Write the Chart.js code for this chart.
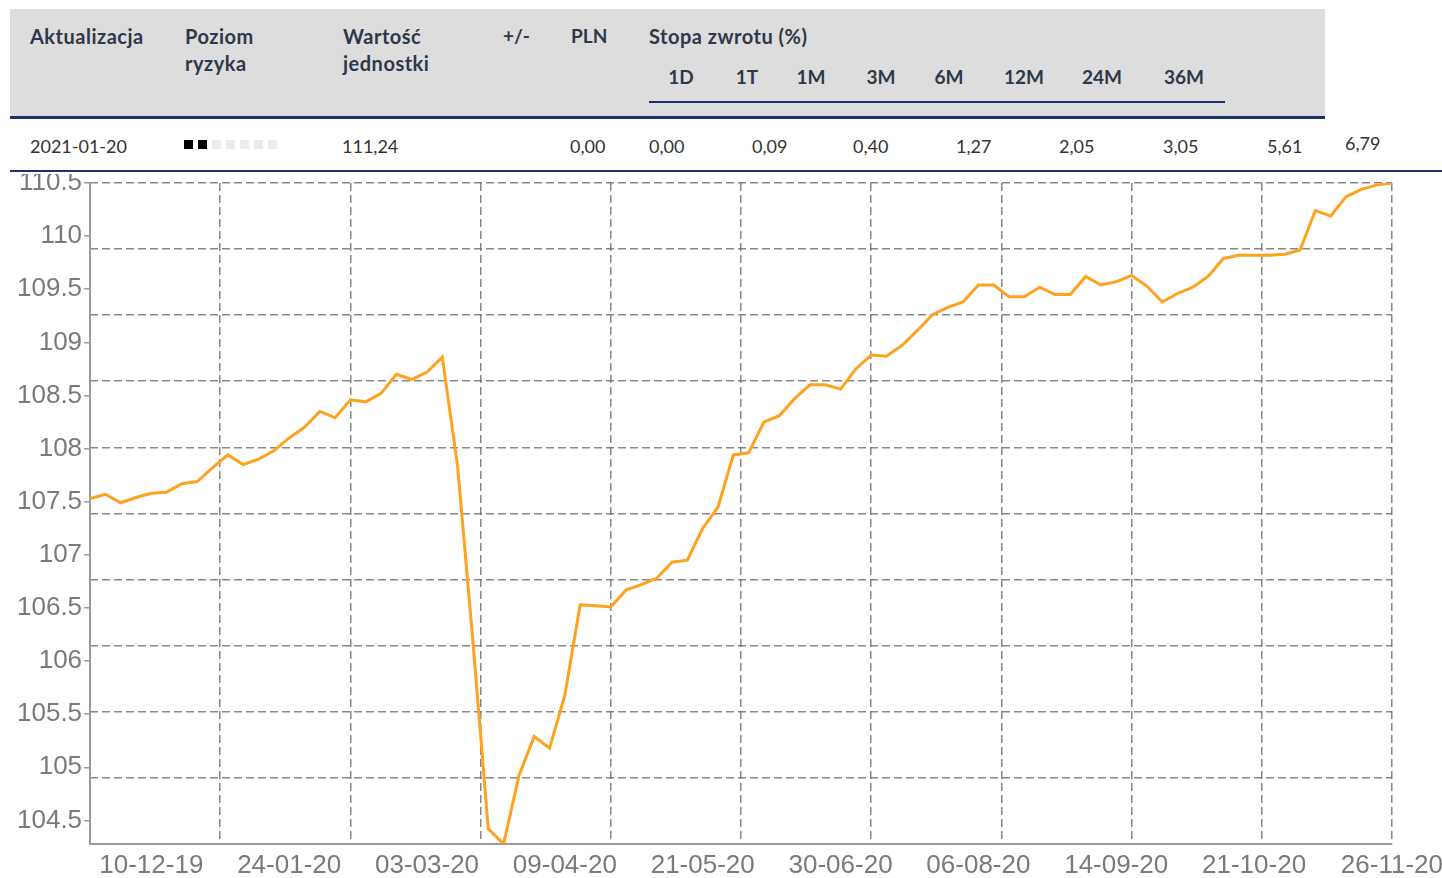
<!DOCTYPE html>
<html>
<head>
<meta charset="utf-8">
<script src="https://cdn.jsdelivr.net/npm/chart.js@4/dist/chart.umd.min.js"></script>
<style>
  html, body { margin:0; padding:0; width:1442px; height:878px; overflow:hidden; background:#fff; }
  #hdr { position:absolute; left:0; top:0; width:1442px; height:174px; background:#fff; z-index:2; }
  .bg { position:absolute; left:10px; top:9px; width:1315px; height:108px; background:#dddddd; }
  .navy { position:absolute; background:#1c2f70; }
  .t { position:absolute; white-space:nowrap; font-family:"Lato", "Noto Sans", sans-serif; line-height:24px; height:24px; }
  .h { font-weight:700; font-size:19px; color:#2d3849; }
  .w { font-size:20px; letter-spacing:0.5px; }
  .c { transform:translateX(-50%); }
  .d { font-weight:400; font-size:18px; color:#333; }
  .sq { position:absolute; width:9px; height:9px; top:140px; }
  #wrap { position:absolute; left:0; top:150px; width:1449px; height:737px; z-index:1; }
</style>
</head>
<body>
<div id="wrap"><canvas id="chart"></canvas></div>
<div id="hdr"></div>
<script>
// ---- data ----
const navValues = [
  107.53, 107.57, 107.49, 107.54, 107.58, 107.59, 107.67, 107.69, 107.82, 107.94,
  107.85, 107.90, 107.98, 108.10, 108.20, 108.35, 108.29, 108.46, 108.44, 108.52,
  108.70, 108.65, 108.72, 108.86, 107.83, 106.18, 104.42, 104.28, 104.92, 105.29,
  105.18, 105.68, 106.53, 106.52, 106.51, 106.67, 106.72, 106.78, 106.93, 106.95,
  107.25, 107.45, 107.94, 107.96, 108.25, 108.31, 108.47, 108.60, 108.60, 108.56,
  108.75, 108.88, 108.87, 108.97, 109.11, 109.26, 109.33, 109.38, 109.54, 109.54,
  109.43, 109.43, 109.52, 109.45, 109.45, 109.62, 109.54, 109.57, 109.63, 109.53,
  109.38, 109.46, 109.52, 109.62, 109.79, 109.82, 109.82, 109.82, 109.83, 109.87,
  110.24, 110.19, 110.37, 110.44, 110.48, 110.50
];
const xTickIndex  = [4, 13, 22, 31, 40, 49, 58, 67, 76, 85];
const xTickLabels = ['10-12-19','24-01-20','03-03-20','09-04-20','21-05-20','30-06-20','06-08-20','14-09-20','21-10-20','26-11-20'];
const yTickValues = [104.5, 105, 105.5, 106, 106.5, 107, 107.5, 108, 108.5, 109, 109.5, 110, 110.5];
const gridDivisions = 10;

// header table content
const headCols = [
  ['Aktualizacja', 30, 36, 1], ['Poziom', 185, 36, 1], ['ryzyka', 185, 63, 1],
  ['Wartość', 343, 36, 1], ['jednostki', 343, 63, 1], ['+/-', 503, 36, 0],
  ['PLN', 571, 36, 0], ['Stopa zwrotu (%)', 649, 36, 1]
];
const periodLabels = ['1D','1T','1M','3M','6M','12M','24M','36M'];
const periodCenters = [681, 747, 811, 881, 949, 1024, 1102, 1184];
const rowDate = '2021-01-20';
const riskLevel = 2, riskMax = 7;
const rowValues = [['111,24', 342], ['0,00', 570], ['0,00', 649], ['0,09', 752], ['0,40', 853],
                   ['1,27', 956], ['2,05', 1059], ['3,05', 1163], ['5,61', 1267], ['6,79', 1345]];

// ---- header ----
const hdr = document.getElementById('hdr');
function add(html){ hdr.insertAdjacentHTML('beforeend', html); }
add('<div class="bg"></div>');
add('<div class="navy" style="left:10px;top:116px;width:1315px;height:3px"></div>');
add('<div class="navy" style="left:649px;top:101px;width:576px;height:2px"></div>');
add('<div class="navy" style="left:10px;top:170px;width:1432px;height:2px"></div>');
headCols.forEach(([t,x,y,w]) => add(`<div class="t h${w?' w':''}" style="left:${x}px;top:${y-12}px">${t}</div>`));
periodLabels.forEach((t,i) => add(`<div class="t h c" style="left:${periodCenters[i]}px;top:${77-12}px">${t}</div>`));
add(`<div class="t d" style="left:30px;top:${146-12}px">${rowDate}</div>`);
for (let k=0;k<riskMax;k++){
  add(`<div class="sq" style="left:${184+k*14}px;background:${k<riskLevel?'#000':'#ececec'}"></div>`);
}
rowValues.forEach(([t,x],i) => add(`<div class="t d" style="left:${x}px;top:${(i===rowValues.length-1?143:146)-12}px">${t}</div>`));

// ---- chart ----
const yMin = Math.min(...navValues), yMax = Math.max(...navValues);
const xMax = navValues.length - 1;
const gridColor = 'rgba(105,105,105,0.8)';
const labelFont = { family: '"Liberation Sans", Arial, sans-serif', size: 26 };
function gridTicks(s){
  const t = [];
  for (let k=0;k<=gridDivisions;k++) t.push({ value: s.min + (s.max - s.min) * k / gridDivisions });
  s.ticks = t;
}

new Chart(document.getElementById('chart'), {
  type: 'line',
  data: {
    datasets: [{
      data: navValues.map((v,i) => ({ x: i, y: v })),
      xAxisID: 'x', yAxisID: 'y',
      borderColor: '#ffa21f', borderWidth: 3, pointRadius: 0, tension: 0, fill: false
    }]
  },
  options: {
    responsive: true, maintainAspectRatio: false, animation: false,
    layout: { padding: { left: 15, top: 33, right: 0, bottom: 0 } },
    plugins: { legend: { display: false }, tooltip: { enabled: false } },
    scales: {
      x: {
        type: 'linear', position: 'bottom', min: 0, max: xMax,
        afterBuildTicks: s => { s.ticks = xTickIndex.map(v => ({ value: v })); },
        ticks: { autoSkip: false, maxRotation: 0, padding: 6, color: '#7a7a7a', font: labelFont,
                 callback: (v, i) => xTickLabels[i] },
        grid: { drawOnChartArea: false, drawTicks: false },
        border: { display: true, color: '#9a9a9a', width: 2 }
      },
      xGrid: {
        type: 'linear', position: 'bottom', min: 0, max: xMax,
        afterBuildTicks: gridTicks,
        afterFit: s => { s.height = 0; },
        ticks: { display: false },
        grid: { color: gridColor, lineWidth: 1.5, drawTicks: false },
        border: { display: false, dash: [8, 4] }
      },
      y: {
        type: 'linear', position: 'left', min: yMin, max: yMax,
        afterBuildTicks: s => { s.ticks = yTickValues.map(v => ({ value: v })); },
        ticks: { padding: 2, color: '#7a7a7a', font: labelFont, callback: v => String(v) },
        grid: { drawOnChartArea: false, drawTicks: true, tickLength: 6, color: '#9a9a9a', lineWidth: 1.5 },
        border: { display: true, color: '#9a9a9a', width: 2 }
      },
      yGrid: {
        type: 'linear', position: 'left', min: yMin, max: yMax,
        afterBuildTicks: gridTicks,
        afterFit: s => { s.width = 0; },
        ticks: { display: false },
        grid: { color: gridColor, lineWidth: 1.5, drawTicks: false },
        border: { display: false, dash: [8, 4] }
      }
    }
  }
});
</script>
</body>
</html>
